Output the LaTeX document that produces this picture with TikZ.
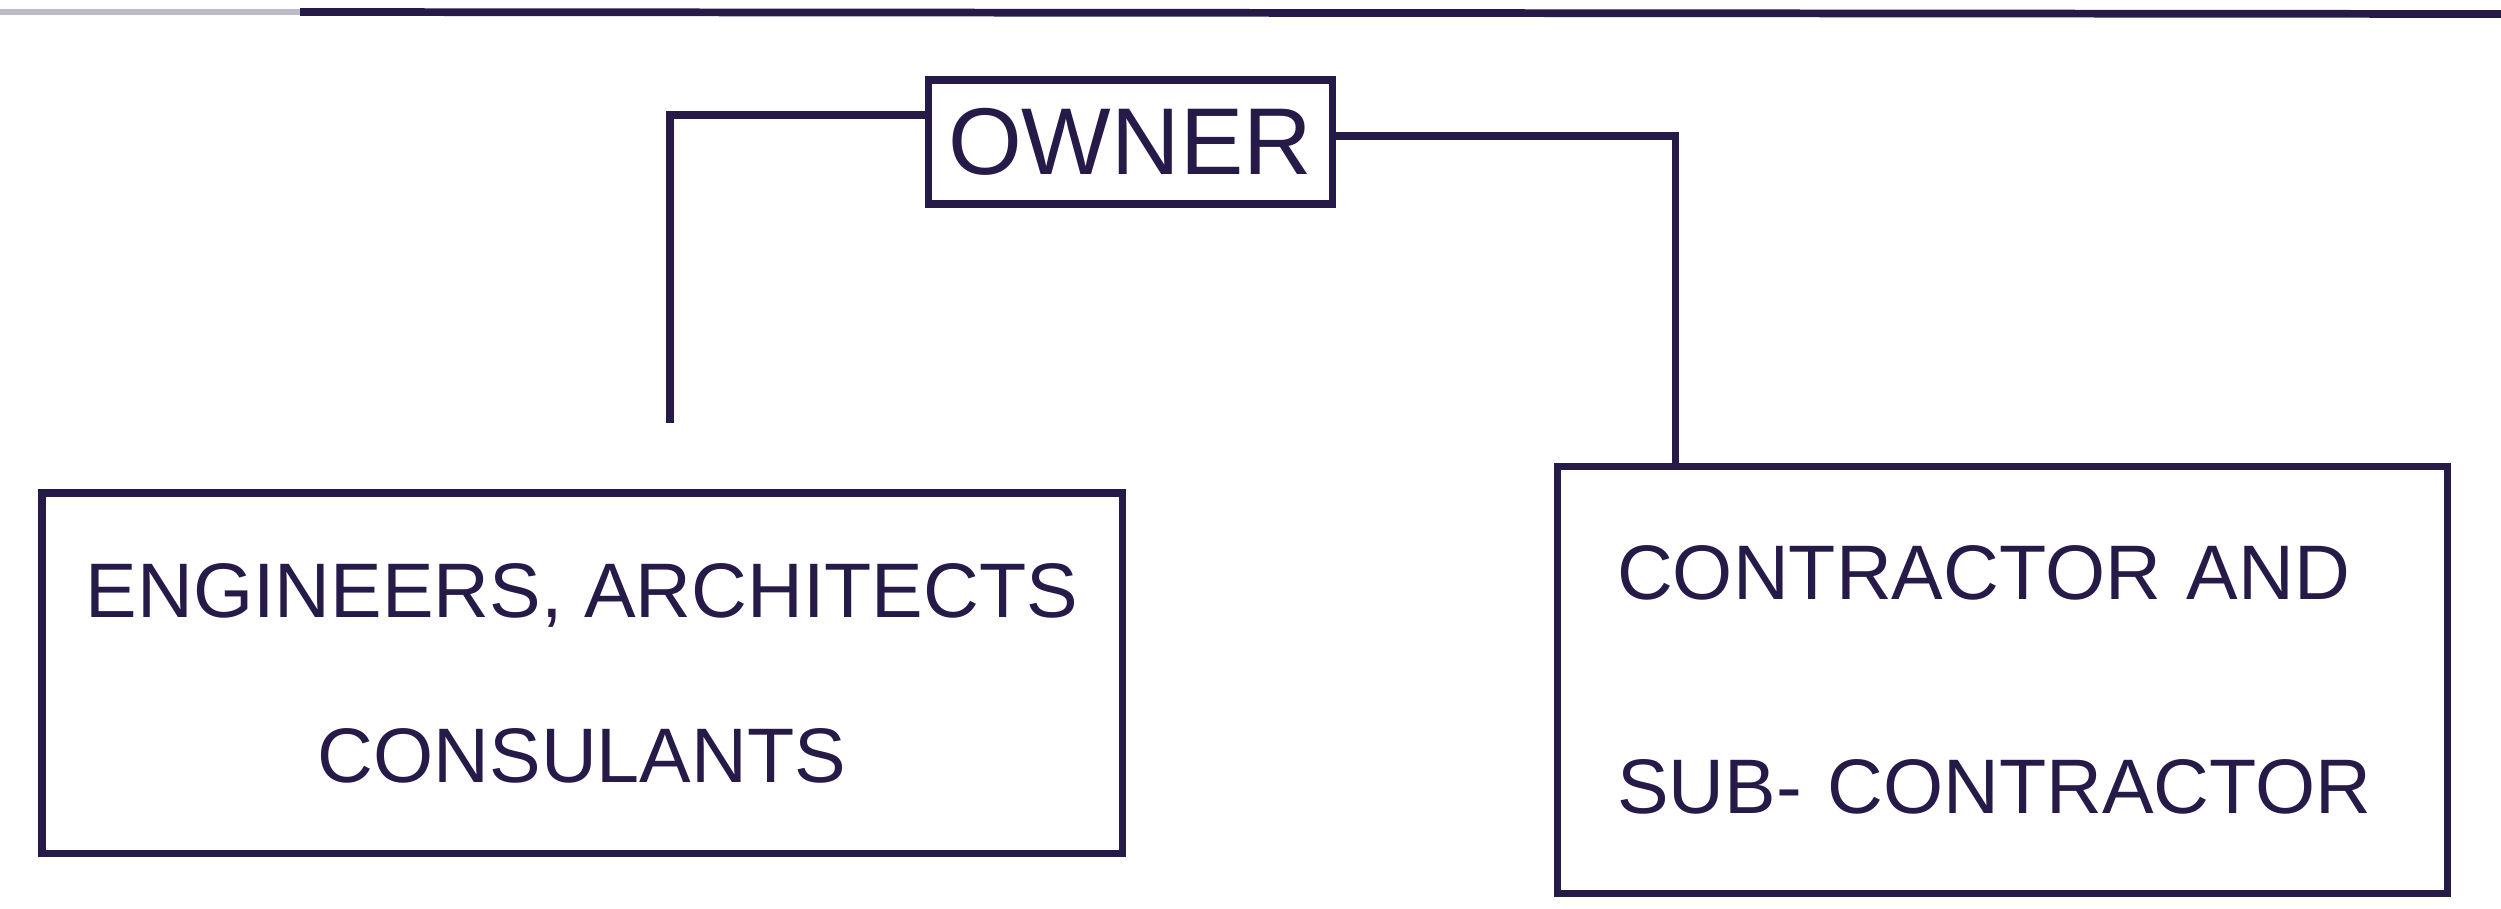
\documentclass[tikz,border=0pt]{standalone}
\usepackage{fontspec}
\setmainfont{Liberation Sans}
\usepackage{tikz}
\definecolor{ink}{RGB}{38,26,72}

\begin{document}
\begin{tikzpicture}[x=1cm, y=1cm]
  % Define styles
  \tikzstyle{party} = [rectangle, draw=ink, line width=2pt, text=ink, font=\fontsize{22}{26}\selectfont]
  \tikzstyle{link} = [draw=ink, line width=2pt]

  \useasboundingbox (0,0) rectangle (25.01,9.08);

  % Page rule
  \draw[ink!30, line width=1.5pt] (0,8.96) -- (3,8.96);
  \draw[ink, line width=2.2pt] (3,8.96) -- (25.01,8.94);

  % Owner
  \node[party, minimum width=4.04cm, minimum height=1.24cm, font=\fontsize{27}{32}\selectfont] (owner) at (11.30,7.66) {OWNER};

  % Engineers, architects, consultants
  \node[party, minimum width=10.8cm, minimum height=3.6cm, align=center] (eng) at (5.82,2.35) {ENGINEERS, ARCHITECTS\\[21pt]CONSULANTS};

  % Contractor and sub-contractor
  \node[party, text width=7.7cm, inner xsep=0.6cm, minimum height=4.27cm, align=left] (con) at (20.02,2.28) {CONTRACTOR AND\\[35pt]SUB- CONTRACTOR};

  % Connections
  \draw[link] ([yshift=0.27cm]owner.west) -| ([xshift=0.88cm,yshift=0.66cm]eng.north);
  \draw[link] ([yshift=0.06cm]owner.east) -| ([xshift=-3.27cm]con.north);

\end{tikzpicture}
\end{document}
